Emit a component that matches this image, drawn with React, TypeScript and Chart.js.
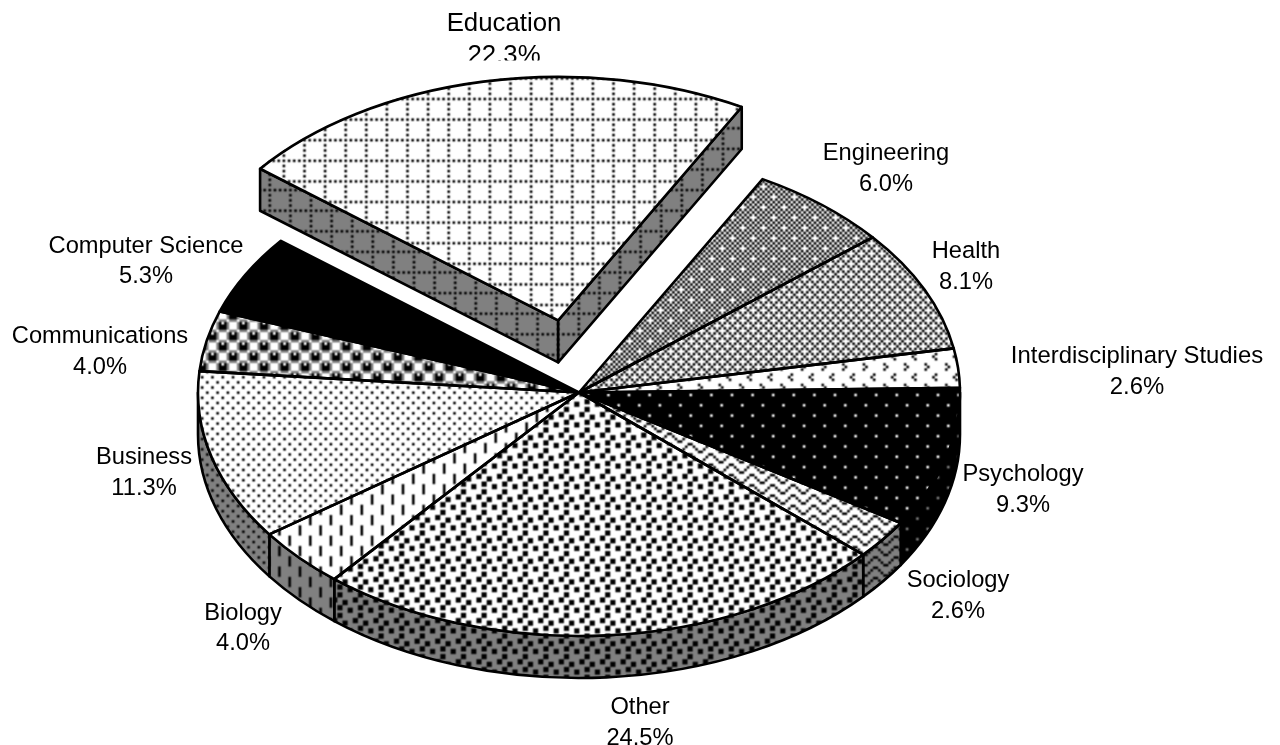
import React, { useEffect, useRef } from "react";
import { Chart, registerables } from "chart.js";

Chart.register(...registerables);

const categories = ["Engineering", "Health", "Interdisciplinary Studies", "Psychology", "Sociology", "Other", "Biology", "Business", "Communications", "Computer Science", "Education"];
const shares = [6.0, 8.1, 2.6, 9.3, 2.6, 24.5, 4.0, 11.3, 4.0, 5.3, 22.3];
const shareLabels = ["6.0%", "8.1%", "2.6%", "9.3%", "2.6%", "24.5%", "4.0%", "11.3%", "4.0%", "5.3%", "22.3%"];

const ROTATION = 28.8;
const CX = 579;
const CY = 392.5;
const RADIUS = 381;
const K = 243.5 / 381;
const DEPTH = 42;
const EXPLODE = 113.5;
const NUDGE_X = 1.5;
const NUDGE_Y = -1;
const CELL = 2.575;
const SUB = 4;
const BLUR = 1.0;

const labelCenters: [number, number, number, number][] = [
  [886, 153, 184, 23.7],
  [966, 251, 282, 23.7],
  [1137, 356, 387, 23.9],
  [1023, 474, 505, 23.7],
  [958, 580, 611, 23.7],
  [640, 707, 738, 23.7],
  [243, 613, 643, 23.7],
  [144, 457, 488, 23.7],
  [100, 336, 367, 23.7],
  [146, 246, 276, 23.7],
  [504, 24, 56, 25.8],
];

const tiles: string[][] = [
  ["..#.#.#.", ".#.#.#.#", "#.#.#.#.", ".#.#.#.#", "#.#...#.", ".#.#.#.#", "#.#.#.#.", ".#.#.#.#"],
  ["..#...#.", ".#.#.#.#", "#...#...", ".#.#.#.#", "..#...#.", ".#.#.#.#", "#...#...", ".#.#.#.#"],
  ["........", "...#....", "..#.....", "...#....", "........", ".......#", "#.......", ".......#"],
  [".#######", "########", "########", "########", "####.###", "########", "########", "########"],
  ["...##...", "..#..#..", ".#....#.", "#......#", "...##...", "..#..#..", ".#....#.", "#......#"],
  [".##.....", ".##..##.", ".....##.", "...##...", "#..##..#", "#......#", "...##...", "...##..."],
  ["#.......", "#.......", "#.......", "#.......", "....#...", "....#...", "....#...", "....#..."],
  ["#...#...", "........", "..#...#.", "........", "#...#...", "........", "..#...#.", "........"],
  [".+++.+++", "+#.#+...", "+###+...", "+###+...", ".+++.+++", "+...+#.#", "+...+###", "+...+###"],
  ["########", "########", "########", "########", "########", "########", "########", "########"],
  ["#.#.#.#.", "........", "#.......", "........", "#.......", "........", "#.......", "........"],
];

// pattern phase per slice, in page pixels: top face x, y, wall x, y
const phases: [number, number, number, number][] = [
  [0, 0, 0, 0],
  [0, 0, 0, 0],
  [0, 0, 0, 0],
  [844, 404, 844, 404],
  [0, 0, 0, 0],
  [0, 0, 0, 0],
  [0, 0, 0, 0],
  [0, 0, 0, 0],
  [0, 0, 0, 0],
  [0, 0, 0, 0],
  [550.4, 97.7, 618.7, 127],
];

function makeTile(rows: string[], paper: string) {
  const size = 8 * SUB;
  const big = document.createElement("canvas");
  big.width = size * 3;
  big.height = size * 3;
  const g = big.getContext("2d")!;
  for (let i = 0; i < 3; i++) {
    for (let j = 0; j < 3; j++) {
      rows.forEach((row, y) => {
        for (let x = 0; x < 8; x++) {
          g.fillStyle = row[x] === "#" ? "#000000" : row[x] === "+" ? "#808080" : paper;
          g.fillRect(i * size + x * SUB, j * size + y * SUB, SUB, SUB);
        }
      });
    }
  }
  const c = document.createElement("canvas");
  c.width = size;
  c.height = size;
  const h = c.getContext("2d")!;
  h.filter = `blur(${BLUR}px)`;
  h.drawImage(big, -size, -size);
  return c;
}

function makePattern(rows: string[], paper: string, m: DOMMatrix) {
  const g = document.createElement("canvas").getContext("2d")!;
  const p = g.createPattern(makeTile(rows, paper), "repeat")!;
  p.setTransform(m);
  return p;
}

function midAngle(i: number) {
  const before = shares.slice(0, i).reduce((a, b) => a + b, 0);
  const total = shares.reduce((a, b) => a + b, 0);
  return ((ROTATION - 90) * Math.PI) / 180 + ((before + shares[i] / 2) / total) * 2 * Math.PI;
}

const explodedIndex = categories.indexOf("Education");

export default function App() {
  const ref = useRef<HTMLCanvasElement>(null);
  useEffect(() => {
    const unit = CELL / SUB;
    const topPatterns = tiles.map((rows, i) => {
      const exploded = i === explodedIndex;
      const a = midAngle(i);
      const ox = exploded ? Math.cos(a) * EXPLODE : 0;
      const oy = exploded ? Math.sin(a) * EXPLODE : 0;
      const [px, py] = phases[i];
      return makePattern(rows, "#ffffff", new DOMMatrix([unit, 0, 0, unit / K, px - ox, CY + (py - CY) / K - oy]));
    });
    const wallPatterns = tiles.map((rows, i) =>
      makePattern(rows, "#808080", new DOMMatrix([unit, 0, 0, unit, phases[i][2], phases[i][3]]))
    );

    const geometry = (chart: any, i: number) => {
      const el = chart.getDatasetMeta(0).data[i];
      const p = el.getProps(["x", "y", "startAngle", "endAngle", "outerRadius"], true);
      const off = (el.options.offset || 0) / 4;
      const mid = (p.startAngle + p.endAngle) / 2;
      return {
        x: p.x + Math.cos(mid) * off,
        y: CY + (p.y - CY) * K + Math.sin(mid) * off * K,
        a0: p.startAngle,
        a1: p.endAngle,
        r: p.outerRadius,
        off,
      };
    };

    const wallPlugin = {
      id: "walls",
      afterDatasetsUpdate(chart: any) {
        const el = chart.getDatasetMeta(0).data[explodedIndex];
        el.x += NUDGE_X;
        el.y += NUDGE_Y / K;
      },
      beforeDatasetsDraw(chart: any) {
        const ctx = chart.ctx as CanvasRenderingContext2D;
        ctx.save();
        ctx.lineWidth = 2.6;
        ctx.strokeStyle = "#000";
        ctx.lineJoin = "round";
        const TAU = Math.PI * 2;
        shares.forEach((_, i) => {
          const g = geometry(chart, i);
          ctx.fillStyle = wallPatterns[i] as any;
          if (g.off > 0) {
            [g.a0, g.a1].forEach((a) => {
              const ex = g.x + Math.cos(a) * g.r;
              const ey = g.y + Math.sin(a) * g.r * K;
              ctx.beginPath();
              ctx.moveTo(g.x, g.y);
              ctx.lineTo(ex, ey);
              ctx.lineTo(ex, ey + DEPTH);
              ctx.lineTo(g.x, g.y + DEPTH);
              ctx.closePath();
              ctx.fill();
              ctx.stroke();
            });
            return;
          }
          // visible part of the rim is the lower half of the ellipse
          for (const shift of [-TAU, 0, TAU]) {
            const s = Math.max(g.a0 + shift, 0);
            const e = Math.min(g.a1 + shift, Math.PI);
            if (e <= s) continue;
            ctx.beginPath();
            ctx.ellipse(g.x, g.y, g.r, g.r * K, 0, s, e);
            ctx.ellipse(g.x, g.y + DEPTH, g.r, g.r * K, 0, e, s, true);
            ctx.closePath();
            ctx.fill();
            ctx.stroke();
          }
        });
        ctx.restore();
        ctx.save();
        ctx.translate(0, CY);
        ctx.scale(1, K);
        ctx.translate(0, -CY);
      },
      afterDatasetsDraw(chart: any) {
        const ctx = chart.ctx as CanvasRenderingContext2D;
        ctx.restore();
        ctx.save();
        ctx.lineWidth = 2.6;
        ctx.strokeStyle = "#000";
        ctx.lineJoin = "round";
        shares.forEach((_, i) => {
          const g = geometry(chart, i);
          ctx.beginPath();
          ctx.moveTo(g.x, g.y);
          ctx.ellipse(g.x, g.y, g.r, g.r * K, 0, g.a0, g.a1);
          ctx.closePath();
          ctx.stroke();
        });
        ctx.restore();
      },
      afterDraw(chart: any) {
        const ctx = chart.ctx as CanvasRenderingContext2D;
        ctx.save();
        ctx.fillStyle = "#000";
        ctx.textAlign = "center";
        ctx.textBaseline = "middle";
        categories.forEach((name, i) => {
          const [x, y1, y2, size] = labelCenters[i];
          ctx.font = `${size}px "Liberation Sans"`;
          ctx.save();
          if (i === explodedIndex) {
            ctx.beginPath();
            ctx.rect(0, 0, 1280, 60.5);
            ctx.clip();
          }
          ctx.fillText(name, x, y1);
          ctx.fillText(shareLabels[i], x, y2);
          ctx.restore();
        });
        ctx.restore();
      },
    };

    const chart = new Chart(ref.current!, {
      type: "pie",
      data: {
        labels: categories,
        datasets: [
          {
            data: shares,
            backgroundColor: topPatterns as any,
            borderWidth: 0,
            offset: categories.map((_, i) => (i === explodedIndex ? EXPLODE * 4 : 0)),
            radius: RADIUS,
            clip: false,
          } as any,
        ],
      },
      options: {
        animation: false,
        responsive: false,
        devicePixelRatio: 1,
        rotation: ROTATION,
        layout: { padding: { left: 0, right: 1280 - 2 * CX, top: 2 * CY - 745, bottom: 0 } },
        plugins: { legend: { display: false }, tooltip: { enabled: false }, title: { display: false } },
      } as any,
      plugins: [wallPlugin as any],
    });
    return () => chart.destroy();
  }, []);
  return <canvas ref={ref} width={1280} height={745} style={{ position: "fixed", left: 0, top: 0, display: "block" }} />;
}
